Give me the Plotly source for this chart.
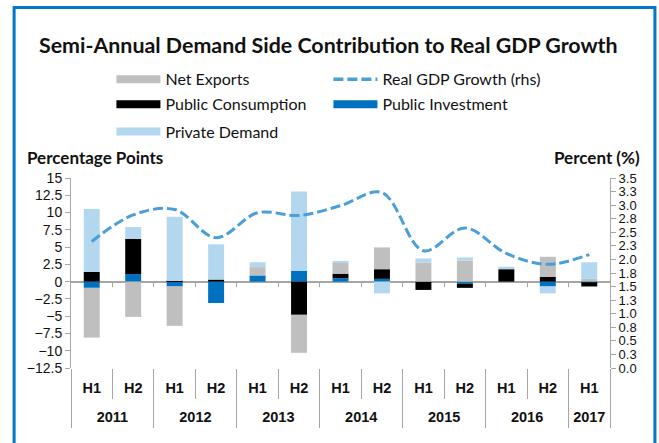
import plotly.graph_objects as go

# ---------------- data ----------------
years = ["2011", "2011", "2012", "2012", "2013", "2013", "2014", "2014",
         "2015", "2015", "2016", "2016", "2017"]
halves = ["H1", "H2", "H1", "H2", "H1", "H2", "H1", "H2", "H1", "H2", "H1", "H2", "H1"]

net_exports = [-7.2, -5.1, -5.7, 0.0, 1.2, -5.5, 1.55, 3.15, 2.75, 3.05, 0.0, 2.9, 0.4]
public_consumption = [1.4, 5.1, 0.1, 0.3, 0.0, -4.8, 0.65, 1.4, -1.2, -0.6, 1.8, 0.7, -0.6]
public_investment = [-0.9, 1.1, -0.7, -3.1, 0.9, 1.55, 0.5, 0.4, 0.0, -0.3, 0.0, -0.7, -0.1]
private_demand = [9.1, 1.7, 9.3, 5.1, 0.7, 11.5, 0.3, -1.7, 0.6, 0.45, 0.35, -1.0, 2.4]
gdp_growth = [2.33, 2.82, 2.92, 2.40, 2.86, 2.81, 2.99, 3.23, 2.16, 2.58, 2.11, 1.91, 2.09]

left_ticks = [15, 12.5, 10, 7.5, 5, 2.5, 0, -2.5, -5, -7.5, -10, -12.5]

# ---------------- derived category helpers ----------------
n = len(halves)
x_cats = [f"{h} {y}" for y, h in zip(years, halves)]
half_bounds = [i + 0.5 for i in range(n - 1) if years[i] == years[i + 1]]
year_bounds = [-0.5] + [i + 0.5 for i in range(n - 1) if years[i] != years[i + 1]] + [n - 0.5]
unique_years = list(dict.fromkeys(years))
year_centers = [sum(i for i in range(n) if years[i] == yv) / years.count(yv) for yv in unique_years]
all_bounds = [i + 0.5 for i in range(n - 1)]

# ---------------- styling ----------------
W, H = 659, 443
L, R, T, B = 70.5, 48.5, 178, 75
PW, PH = W - L - R, H - T - B

def px(x):
    return (x - L) / PW

def py(y):
    return (H - B - y) / PH

C_NX = "#BFBFBF"
C_PC = "#000000"
C_PI = "#0070C0"
C_PD = "#B3D7EE"
C_GDP = "#4A9FD8"
AX = "#A6A6A6"
FRAME = "#0077C8"

HUM = "Lato, 'Open Sans', sans-serif"
TICKF = "'Liberation Sans Narrow', 'Liberation Sans', Arial, sans-serif"

fig = go.Figure()

# stacking order (bottom-up): investment, consumption, net exports, private demand
for name, vals, col in [("Public Investment", public_investment, C_PI),
                        ("Public Consumption", public_consumption, C_PC),
                        ("Net Exports", net_exports, C_NX),
                        ("Private Demand", private_demand, C_PD)]:
    fig.add_trace(go.Bar(x=x_cats, y=vals, name=name, marker=dict(color=col, line=dict(width=0)),
                         showlegend=False, hoverinfo="skip"))

fig.add_trace(go.Scatter(x=x_cats, y=gdp_growth, yaxis="y2", mode="lines",
                         line=dict(color=C_GDP, width=3, dash="10px,4px", shape="spline", smoothing=1.0),
                         name="Real GDP Growth (rhs)", showlegend=False))

# legend entries (wide stripe symbols)
legend_rows = [("legend", [("Net Exports", C_NX, 8, "solid"), ("Real GDP Growth (rhs)", C_GDP, 3.5, "10px,4px")]),
               ("legend2", [("Public Consumption", C_PC, 8, "solid"), ("Public Investment", C_PI, 8, "solid")]),
               ("legend3", [("Private Demand", C_PD, 8, "solid")])]
for lg, items in legend_rows:
    for name, col, w, d in items:
        fig.add_trace(go.Scatter(x=[None], y=[None], xaxis="x2", mode="lines",
                                 line=dict(color=col, width=w, dash=d), name=name,
                                 legend=lg, showlegend=True, hoverinfo="skip"))
# invisible anchors so the helper axes are drawn
for ax in ["x3", "x4", "x5"]:
    fig.add_trace(go.Scatter(x=[None], y=[None], xaxis=ax, mode="lines", showlegend=False, hoverinfo="skip"))

leg_common = dict(orientation="h", xanchor="left", yanchor="middle", itemwidth=44,
                  entrywidth=158, entrywidthmode="pixels", bgcolor="rgba(0,0,0,0)",
                  font=dict(family=HUM, size=16, color="#111"), traceorder="normal")

helper = dict(overlaying="x", range=[-0.5, n - 0.5], tickmode="array", showline=False,
              showgrid=False, zeroline=False, automargin=False)
cat_font = dict(family=TICKF, size=14.5, color="#111", weight="bold")

fig.update_layout(
    width=W, height=H,
    margin=dict(l=L, r=R, t=T, b=B, autoexpand=False),
    paper_bgcolor="white", plot_bgcolor="white",
    barmode="relative", bargap=0.615,
    showlegend=True,
    legend=dict(x=px(111), y=py(79.3), **leg_common),
    legend2=dict(x=px(111), y=py(104.3), **leg_common),
    legend3=dict(x=px(111), y=py(131.7), **leg_common),
    # half-year labels
    xaxis=dict(type="category", range=[-0.5, n - 0.5], tickmode="array", tickvals=x_cats, ticktext=halves,
               ticks="", ticklabelstandoff=9, showline=False, showgrid=False, zeroline=False,
               automargin=False, tickfont=cat_font),
    # separators between H1 and H2
    xaxis2=dict(anchor="y", side="bottom", tickvals=half_bounds, ticks="outside", ticklen=30,
                tickcolor=AX, showticklabels=False, **helper),
    # separators between years
    xaxis3=dict(anchor="y", side="bottom", tickvals=year_bounds, ticks="outside", ticklen=59,
                tickcolor=AX, showticklabels=False, **helper),
    # year labels
    xaxis4=dict(anchor="y", side="bottom", tickvals=year_centers, ticktext=unique_years, ticks="",
                ticklabelstandoff=38, tickfont=cat_font, **helper),
    # small ticks on the zero line
    xaxis5=dict(anchor="free", position=(0 - (-12.5)) / 27.5, tickvals=all_bounds, ticks="outside",
                ticklen=4, tickcolor=AX, showticklabels=False, **helper),
    yaxis=dict(range=[-12.5, 15], tickmode="array", tickvals=left_ticks,
               ticks="outside", ticklen=5, tickcolor=AX, showline=True, linecolor=AX, linewidth=1,
               zeroline=True, zerolinecolor=AX, zerolinewidth=1.5, showgrid=False, automargin=False,
               tickfont=dict(family=TICKF, size=14, color="#111")),
    yaxis2=dict(overlaying="y", side="right", range=[0, 3.5], dtick=0.25, tick0=0, tickformat=".1f",
                ticks="outside", ticklen=5, tickcolor=AX, showline=True, linecolor=AX, linewidth=1,
                zeroline=False, showgrid=False, automargin=False,
                tickfont=dict(family=TICKF, size=13, color="#111")),
    annotations=[
        dict(text="<b>Semi-Annual Demand Side Contribution to Real GDP Growth</b>", xref="paper", yref="paper",
             x=px(328), y=py(45), xanchor="center", yanchor="middle", showarrow=False,
             font=dict(family=HUM, size=21.4, color="#111")),
        dict(text="<b>Percentage Points</b>", xref="paper", yref="paper", x=px(24), y=py(157),
             xanchor="left", yanchor="middle", showarrow=False, font=dict(family=HUM, size=17, color="#111")),
        dict(text="<b>Percent (%)</b>", xref="paper", yref="paper", x=px(643), y=py(157),
             xanchor="right", yanchor="middle", showarrow=False, font=dict(family=HUM, size=17, color="#111")),
    ],
    shapes=[dict(type="rect", xref="paper", yref="paper", x0=px(13.5), x1=px(655.5), y0=py(7.5), y1=py(470),
                 line=dict(color=FRAME, width=3), fillcolor="rgba(0,0,0,0)", layer="above")],
)

fig.write_html("out.html", config={"displayModeBar": False},
               post_script="document.body.style.margin='0px';")
